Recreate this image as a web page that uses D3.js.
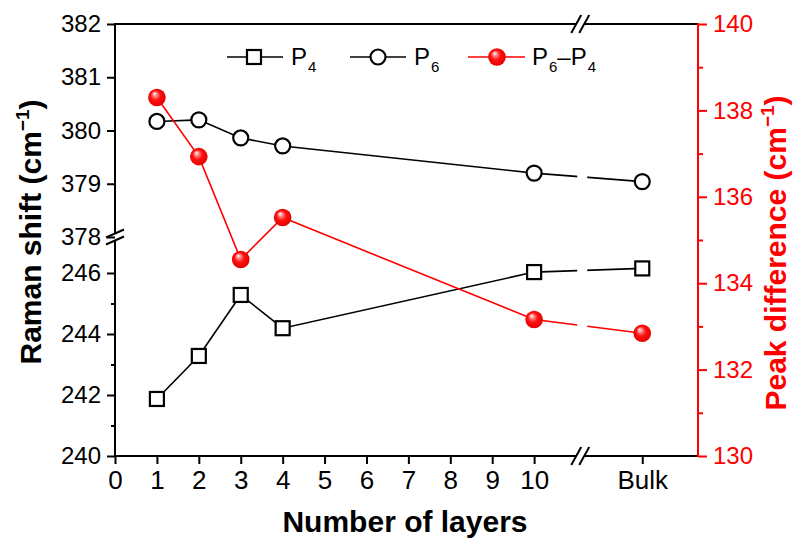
<!DOCTYPE html>
<html>
<head>
<meta charset="utf-8">
<script src="https://cdn.jsdelivr.net/npm/d3@7"></script>
<style>
  html, body { margin: 0; padding: 0; background: #fff; }
  svg { display: block; font-family: "Liberation Sans", Arial, sans-serif; }
</style>
</head>
<body>
<svg id="chart" width="803" height="552"></svg>
<script>
// Number of layers (bulk sits past the axis break)
const layers = ["1", "2", "3", "4", "10", "Bulk"];
// Raman peak positions (cm^-1)
const p4 = [241.87, 243.28, 245.28, 244.19, 246.03, 246.15];
const p6 = [380.17, 380.20, 379.86, 379.71, 379.20, 379.04];
// Peak difference P6 - P4 (cm^-1)
const diff = [138.30, 136.93, 134.55, 135.52, 133.16, 132.84];

const xTicks = ["0", "1", "2", "3", "4", "5", "6", "7", "8", "9", "10", "Bulk"];
const yLowTicks = [240, 241, 242, 243, 244, 245, 246];
const yLowLabels = [240, 242, 244, 246];
const yHighTicks = [378, 379, 380, 381, 382];
const yRightTicks = [130, 131, 132, 133, 134, 135, 136, 137, 138, 139, 140];
const yRightLabels = [130, 132, 134, 136, 138, 140];

// ---- layout ----
const L = 115, R = 698, T = 24, B = 456, BREAK_Y = 237;
const BULK_POS = 12.58, XBREAK_POS = 11.1, X_MAX = 13.91;
const RED = "#ff0000";
const FONT = 24, XFONT = 26;

const svg = d3.select("#chart");
const defs = svg.append("defs");

const x = d3.scaleLinear().domain([0, X_MAX]).range([L, R]);
const xPos = c => c === "Bulk" ? BULK_POS : +c;
const yLow = d3.scaleLinear().domain([240, 247.18]).range([B, BREAK_Y]);
const yHigh = d3.scaleLinear().domain([378, 382]).range([BREAK_Y, T]);
const yR = d3.scaleLinear().domain([130, 140]).range([B, T]);

const xBreak = x(XBREAK_POS);

// sphere shading for the difference series
const grad = defs.append("radialGradient").attr("id", "ball")
  .attr("cx", "50%").attr("cy", "50%").attr("r", "55%")
  .attr("fx", "35%").attr("fy", "28%");
grad.append("stop").attr("offset", "0%").attr("stop-color", "#ffffff");
grad.append("stop").attr("offset", "18%").attr("stop-color", "#ff9a9a");
grad.append("stop").attr("offset", "50%").attr("stop-color", "#ff1010");
grad.append("stop").attr("offset", "100%").attr("stop-color", "#e00000");

// lines are interrupted where the x axis is broken
const clip = defs.append("clipPath").attr("id", "gapClip");
clip.append("rect").attr("x", L).attr("y", 0).attr("width", xBreak - 3 - L).attr("height", 552);
clip.append("rect").attr("x", xBreak + 7).attr("y", 0).attr("width", R - xBreak - 7).attr("height", 552);

// ---- axes ----
function styleAxis(g, color, size) {
  g.selectAll("path.domain").remove();
  g.selectAll(".tick line").attr("stroke", color).attr("stroke-width", 2);
  g.selectAll(".tick text").attr("fill", color).attr("font-size", size)
    .attr("font-family", '"Liberation Sans", Arial, sans-serif');
}
const fmt = d3.format("d");

// bottom axis
const gx = svg.append("g").attr("transform", `translate(0,${B})`)
  .call(d3.axisBottom(x).tickValues(xTicks.map(xPos)).tickSize(8).tickPadding(5)
    .tickFormat((d, i) => xTicks[i]));
styleAxis(gx, "#000", XFONT);
gx.selectAll(".tick text").attr("dy", "0.76em");

// left axis, lower segment
const gl = svg.append("g").attr("transform", `translate(${L},0)`)
  .call(d3.axisLeft(yLow).tickValues(yLowTicks).tickSize(8).tickPadding(6)
    .tickFormat(d => yLowLabels.includes(d) ? fmt(d) : ""));
styleAxis(gl, "#000", FONT);
gl.selectAll(".tick").filter(d => !yLowLabels.includes(d)).select("line").attr("x2", -4);

// left axis, upper segment
const gh = svg.append("g").attr("transform", `translate(${L},0)`)
  .call(d3.axisLeft(yHigh).tickValues(yHighTicks).tickSize(8).tickPadding(6).tickFormat(fmt));
styleAxis(gh, "#000", FONT);

// right axis
const gr = svg.append("g").attr("transform", `translate(${R},0)`)
  .call(d3.axisRight(yR).tickValues(yRightTicks).tickSize(9).tickPadding(6)
    .tickFormat(d => yRightLabels.includes(d) ? fmt(d) : ""));
styleAxis(gr, RED, FONT);
gr.selectAll(".tick").filter(d => !yRightLabels.includes(d)).select("line").attr("x2", 5);

// frame lines
const frame = svg.append("g").attr("stroke-width", 2).attr("fill", "none");
// left spine, split at the y break
frame.append("line").attr("x1", L).attr("x2", L).attr("y1", T - 1).attr("y2", BREAK_Y - 4).attr("stroke", "#000");
frame.append("line").attr("x1", L).attr("x2", L).attr("y1", BREAK_Y + 3).attr("y2", B + 1).attr("stroke", "#000");
// bottom and top spines, split at the x break
[B, T].forEach(yy => {
  frame.append("line").attr("x1", L - 1).attr("x2", xBreak - 4).attr("y1", yy).attr("y2", yy).attr("stroke", "#000");
  frame.append("line").attr("x1", xBreak + 4).attr("x2", R).attr("y1", yy).attr("y2", yy).attr("stroke", "#000");
});
// right spine (red)
frame.append("line").attr("x1", R).attr("x2", R).attr("y1", T - 1).attr("y2", B + 1).attr("stroke", RED);

// break marks
const brk = svg.append("g").attr("stroke", "#000").attr("stroke-width", 2);
[B, T].forEach(yy => {
  [-4, 4].forEach(off => {
    brk.append("line")
      .attr("x1", xBreak + off - 5).attr("y1", yy + 9)
      .attr("x2", xBreak + off + 5).attr("y2", yy - 9);
  });
});
[-3.5, 3.5].forEach(off => {
  brk.append("line")
    .attr("x1", L - 9).attr("y1", BREAK_Y + off + 4)
    .attr("x2", L + 9).attr("y2", BREAK_Y + off - 4);
});

// ---- series ----
const rows = layers.map((c, i) => ({ c, p4: p4[i], p6: p6[i], diff: diff[i] }));
const lines = svg.append("g").attr("clip-path", "url(#gapClip)").attr("fill", "none");

lines.append("path").datum(rows)
  .attr("d", d3.line().x(d => x(xPos(d.c))).y(d => yLow(d.p4)))
  .attr("stroke", "#000").attr("stroke-width", 1.6);
lines.append("path").datum(rows)
  .attr("d", d3.line().x(d => x(xPos(d.c))).y(d => yHigh(d.p6)))
  .attr("stroke", "#000").attr("stroke-width", 1.6);
lines.append("path").datum(rows)
  .attr("d", d3.line().x(d => x(xPos(d.c))).y(d => yR(d.diff)))
  .attr("stroke", RED).attr("stroke-width", 1.6);

const SQ = 14, CR = 7.5, BR = 8.8;

svg.append("g").selectAll("rect").data(rows).join("rect")
  .attr("x", d => x(xPos(d.c)) - SQ / 2).attr("y", d => yLow(d.p4) - SQ / 2)
  .attr("width", SQ).attr("height", SQ)
  .attr("fill", "#fff").attr("stroke", "#000").attr("stroke-width", 2.2);

svg.append("g").selectAll("circle").data(rows).join("circle")
  .attr("cx", d => x(xPos(d.c))).attr("cy", d => yHigh(d.p6)).attr("r", CR)
  .attr("fill", "#fff").attr("stroke", "#000").attr("stroke-width", 2.2);

svg.append("g").selectAll("circle").data(rows).join("circle")
  .attr("cx", d => x(xPos(d.c))).attr("cy", d => yR(d.diff)).attr("r", BR)
  .attr("fill", "url(#ball)");

// ---- legend ----
const LY = 57;
const leg = svg.append("g");
function legLine(x1, x2, color) {
  leg.append("line").attr("x1", x1).attr("x2", x2).attr("y1", LY).attr("y2", LY)
    .attr("stroke", color).attr("stroke-width", 1.6);
}
function subLabel(xs, parts) {
  const t = leg.append("text").attr("x", xs).attr("y", LY + 8).attr("font-size", FONT).attr("fill", "#000");
  let lowered = false;
  parts.forEach(p => {
    if (p.sub) {
      t.append("tspan").attr("font-size", 15).attr("dy", 7).attr("dx", 1).text(p.sub);
      lowered = true;
    } else {
      const s = t.append("tspan").text(p.t);
      if (lowered) { s.attr("dy", -7); lowered = false; }
    }
  });
}
legLine(227, 283, "#000");
leg.append("rect").attr("x", 254 - SQ / 2).attr("y", LY - SQ / 2).attr("width", SQ).attr("height", SQ)
  .attr("fill", "#fff").attr("stroke", "#000").attr("stroke-width", 2.2);
subLabel(291, [{ t: "P" }, { sub: "4" }]);

legLine(350, 406, "#000");
leg.append("circle").attr("cx", 378).attr("cy", LY).attr("r", CR)
  .attr("fill", "#fff").attr("stroke", "#000").attr("stroke-width", 2.2);
subLabel(414, [{ t: "P" }, { sub: "6" }]);

legLine(468, 525, RED);
leg.append("circle").attr("cx", 497).attr("cy", LY).attr("r", BR).attr("fill", "url(#ball)");
subLabel(532, [{ t: "P" }, { sub: "6" }, { t: "\u2013P" }, { sub: "4" }]);

// ---- titles ----
svg.append("text").attr("x", 405).attr("y", 532).attr("text-anchor", "middle")
  .attr("font-size", 30).attr("font-weight", "bold").text("Number of layers");

function vTitle(cx, cy, main, color) {
  const t = svg.append("text").attr("transform", `translate(${cx},${cy}) rotate(-90)`)
    .attr("text-anchor", "middle").attr("font-size", 30).attr("font-weight", "bold").attr("fill", color);
  t.append("tspan").text(main + " (cm");
  t.append("tspan").attr("font-size", 19).attr("dy", -12).text("\u22121");
  t.append("tspan").attr("dy", 12).text(")");
}
vTitle(41, 232, "Raman shift", "#000");
vTitle(786, 253, "Peak difference", RED);
</script>
</body>
</html>
